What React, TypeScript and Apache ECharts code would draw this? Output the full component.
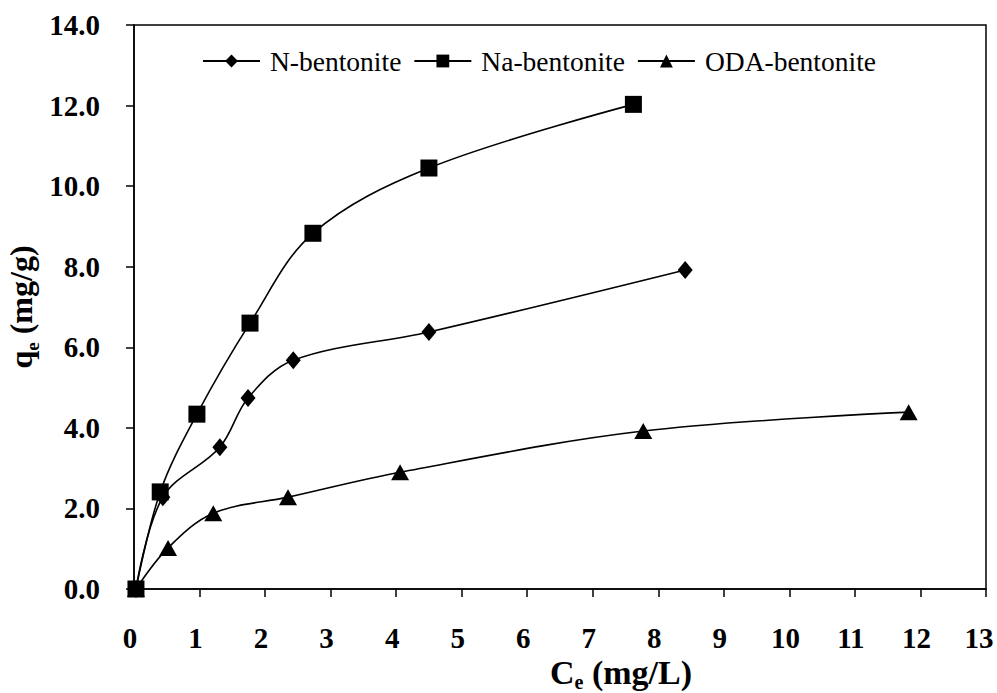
import React, { useEffect, useRef } from "react";
import * as echarts from "echarts";

const seriesNames = ["N-bentonite", "Na-bentonite", "ODA-bentonite"];

const nBentoniteX = [0.03, 0.44, 1.31, 1.74, 2.43, 4.5, 8.41];
const nBentoniteY = [0.0, 2.28, 3.52, 4.74, 5.68, 6.38, 7.92];

const naBentoniteX = [0.03, 0.4, 0.96, 1.77, 2.73, 4.5, 7.62];
const naBentoniteY = [0.0, 2.41, 4.34, 6.6, 8.83, 10.45, 12.03];

const odaBentoniteX = [0.03, 0.52, 1.21, 2.35, 4.06, 7.77, 11.82];
const odaBentoniteY = [0.0, 1.02, 1.88, 2.28, 2.9, 3.92, 4.39];

const FONT = "Liberation Serif";

function pairs(xs: number[], ys: number[]) {
  return xs.map((x, i) => [x, ys[i]]);
}

function makeRich(size: number, sub: number, drop: number, lh: number) {
  return {
    a: { fontFamily: FONT, fontSize: size, fontWeight: "bold", color: "#000", verticalAlign: "bottom", lineHeight: lh },
    s: { fontFamily: FONT, fontSize: sub, fontWeight: "bold", color: "#000", verticalAlign: "bottom", lineHeight: lh, padding: [0, 0, -drop, 0] },
  };
}

export default function App() {
  const ref = useRef<HTMLDivElement>(null);
  useEffect(() => {
    document.body.style.margin = "0";
    const chart = echarts.init(ref.current!, null, { renderer: "svg" });
    const lineStyle = { color: "#000", width: 1.6 };
    const common = {
      type: "line" as const,
      smooth: 0.35,
      lineStyle,
      itemStyle: { color: "#000" },
      showSymbol: true,
    };
    chart.setOption({
      animation: false,
      backgroundColor: "#fff",
      grid: {
        left: 134,
        right: 11,
        top: 25,
        bottom: 104,
        show: true,
        containLabel: false,
        outerBoundsMode: "none",
        borderColor: "#000",
        borderWidth: 1.5,
        backgroundColor: "transparent",
      },
      legend: {
        left: 202,
        top: 47,
        padding: 0,
        itemWidth: 57,
        itemHeight: 16,
        itemGap: 12,
        textStyle: { fontFamily: FONT, fontSize: 27.5, color: "#000", padding: [0, 0, 0, 5] },
        data: seriesNames,
      },
      xAxis: {
        type: "value",
        min: 0,
        max: 13,
        interval: 1,
        name: "{a|C}{s|e}{a| (mg/L)}",
        nameLocation: "middle",
        nameGap: 70,
        nameMoveOverlap: false,
        nameTextStyle: { rich: makeRich(34, 20, 3, 30), padding: [0, 0, 0, 122] },
        axisLine: { show: true, onZero: false, lineStyle: { color: "#000", width: 1.5 } },
        axisTick: { show: true, inside: false, length: 8, lineStyle: { color: "#000", width: 1.5 } },
        axisLabel: {
          fontFamily: FONT,
          fontSize: 29,
          fontWeight: "bold",
          color: "#000",
          margin: 34,
          padding: [0, 8, 0, 0],
          formatter: (v: number) => (v === 13 ? "{m|13}" : String(v)),
          rich: {
            m: { fontFamily: FONT, fontSize: 29, fontWeight: "bold", color: "#000", padding: [0, 6, 0, 0] },
          },
        },
        splitLine: { show: false },
      },
      yAxis: {
        type: "value",
        min: 0,
        max: 14,
        interval: 2,
        name: "{a|q}{s|e}{a| (mg/g)}",
        nameLocation: "middle",
        nameGap: 97,
        nameMoveOverlap: false,
        nameRotate: 90,
        nameTextStyle: { rich: makeRich(32, 19, 5, 34) },
        axisLine: { show: true, onZero: false, lineStyle: { color: "#000", width: 1.5 } },
        axisTick: { show: true, inside: false, length: 8, lineStyle: { color: "#000", width: 1.5 } },
        axisLabel: {
          fontFamily: FONT,
          fontSize: 29,
          fontWeight: "bold",
          color: "#000",
          margin: 34,
          formatter: (v: number) => v.toFixed(1),
        },
        splitLine: { show: false },
      },
      series: [
        { ...common, name: seriesNames[0], symbol: "diamond", symbolSize: [15, 18], data: pairs(nBentoniteX, nBentoniteY) },
        { ...common, name: seriesNames[1], symbol: "rect", symbolSize: 17, data: pairs(naBentoniteX, naBentoniteY) },
        { ...common, name: seriesNames[2], symbol: "triangle", symbolSize: [18, 16], data: pairs(odaBentoniteX, odaBentoniteY) },
      ],
    });
    return () => chart.dispose();
  }, []);
  return (
    <div
      ref={ref}
      style={{ position: "fixed", left: 0, top: 0, width: 997, height: 693, background: "#fff" }}
    />
  );
}
